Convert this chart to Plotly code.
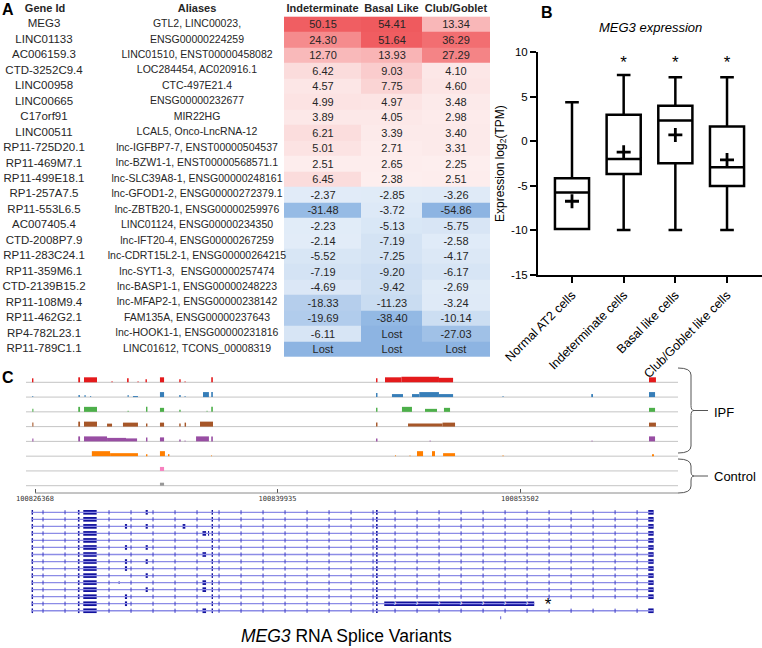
import numpy as np
import plotly.graph_objects as go

W, H = 762, 648

def px(x):
    return x / W

def py(y):
    return 1 - y / H

# ---------------- Panel A data ----------------
TABLE_HEADERS = ["Gene Id", "Aliases", "Indeterminate", "Basal Like", "Club/Goblet"]
GENE_IDS = ["MEG3", "LINC01133", "AC006159.3", "CTD-3252C9.4", "LINC00958", "LINC00665",
            "C17orf91", "LINC00511", "RP11-725D20.1", "RP11-469M7.1", "RP11-499E18.1",
            "RP1-257A7.5", "RP11-553L6.5", "AC007405.4", "CTD-2008P7.9", "RP11-283C24.1",
            "RP11-359M6.1", "CTD-2139B15.2", "RP11-108M9.4", "RP11-462G2.1", "RP4-782L23.1",
            "RP11-789C1.1"]
ALIASES = ["GTL2, LINC00023,", "ENSG00000224259", "LINC01510, ENST00000458082",
           "LOC284454, AC020916.1", "CTC-497E21.4", "ENSG00000232677", "MIR22HG",
           "LCAL5, Onco-LncRNA-12", "lnc-IGFBP7-7, ENST00000504537",
           "lnc-BZW1-1, ENST00000568571.1", "lnc-SLC39A8-1, ENSG00000248161",
           "lnc-GFOD1-2, ENSG00000272379.1", "lnc-ZBTB20-1, ENSG00000259976",
           "LINC01124, ENSG00000234350", "lnc-IFT20-4, ENSG00000267259",
           "lnc-CDRT15L2-1, ENSG00000264215", "lnc-SYT1-3,  ENSG00000257474",
           "lnc-BASP1-1, ENSG00000248223", "lnc-MFAP2-1, ENSG00000238142",
           "FAM135A, ENSG00000237643", "lnc-HOOK1-1, ENSG00000231816",
           "LINC01612, TCONS_00008319"]
INDETERMINATE = [50.15, 24.30, 12.70, 6.42, 4.57, 4.99, 3.89, 6.21, 5.01, 2.51, 6.45,
                 -2.37, -31.48, -2.23, -2.14, -5.52, -7.19, -4.69, -18.33, -19.69, -6.11, "Lost"]
BASAL_LIKE = [54.41, 51.64, 13.93, 9.03, 7.75, 4.97, 4.05, 3.39, 2.71, 2.65, 2.38,
              -2.85, -3.72, -5.13, -7.19, -7.25, -9.20, -9.42, -11.23, -38.40, "Lost", "Lost"]
CLUB_GOBLET = [13.34, 36.29, 27.29, 4.10, 4.60, 3.48, 2.98, 3.40, 3.31, 2.25, 2.51,
               -3.26, -54.86, -5.75, -2.58, -4.17, -6.17, -2.69, -3.24, -10.14, -27.03, "Lost"]

# ---------------- Panel B data ----------------
BOX_CATS = ["Normal AT2 cells", "Indeterminate cells", "Basal like cells", "Club/Goblet like cells"]
BOX_Q1 = [-9.85, -3.65, -2.45, -5.0]
BOX_MEDIAN = [-5.75, -1.97, 2.34, -2.9]
BOX_Q3 = [-4.14, 2.98, 3.99, 1.66]
BOX_LOW = [-9.85, -9.95, -9.95, -9.95]
BOX_HIGH = [4.4, 7.44, 7.21, 7.21]
BOX_MEAN = [-6.72, -1.21, 0.73, -2.08]
BOX_SIG = ["", "*", "*", "*"]

# ---------------- Panel C data ----------------
REGION_START = 100826368
AXIS_TICKS = [100826368, 100839935, 100853502]
TRACK_COLORS = ["#e41a1c", "#377eb8", "#4daf4a", "#a65628", "#984ea3", "#ff7f00", "#f781bf", "#999999"]
# coverage segments: (start offset bp, end offset bp, relative height)
COV_RED = [(-170, -90, 4), (2420, 2520, 5), (2740, 3470, 5), (4280, 4340, 1), (5150, 5240, 4),
           (5740, 5790, 1), (6180, 6260, 3), (6990, 7220, 5), (8070, 8150, 3), (8370, 8420, 1),
           (9860, 9950, 5), (19080, 19160, 4), (19580, 20500, 5), (20500, 22600, 5.5),
           (22600, 23390, 4.5), (34350, 34740, 5)]
COV_BLUE = [(-150, -100, 1), (2430, 2510, 2), (2770, 2830, 2), (3090, 3140, 1), (5180, 5240, 2),
            (5480, 5760, 1), (6990, 7220, 5), (8070, 8150, 2), (8370, 8420, 1), (9400, 9730, 5),
            (9860, 9950, 5), (19080, 19160, 4), (19970, 20590, 3), (21090, 21500, 3),
            (21500, 22600, 5), (22600, 23390, 3), (26160, 26210, 1), (31120, 31220, 3),
            (34350, 34690, 5)]
COV_GREEN = [(-150, -90, 3), (2420, 2520, 5), (2740, 3470, 5), (5180, 5240, 1), (6210, 6290, 5),
             (6990, 7220, 4), (8070, 8150, 2), (9600, 9650, 1), (9860, 9950, 5), (19080, 19160, 4),
             (20530, 21090, 5), (21820, 22490, 3), (22880, 23220, 4), (34350, 34690, 4)]
COV_BROWN = [(-150, -90, 4), (2420, 2520, 5), (2740, 3470, 5), (4030, 4310, 3), (4920, 5760, 4),
             (6210, 6290, 3), (6990, 7220, 4), (8070, 8150, 3), (8370, 8450, 4), (9230, 9960, 5),
             (19080, 19160, 4), (20870, 22800, 3), (22800, 23500, 4), (34350, 34740, 4)]
COV_PURPLE = [(-150, -90, 3), (2420, 2520, 5), (2740, 4030, 5), (4030, 5090, 3.5), (5090, 5710, 3),
              (6210, 6290, 4), (6990, 7220, 4), (8070, 8150, 2), (8370, 8420, 1), (9010, 9730, 5),
              (9860, 9950, 5), (19080, 19160, 3), (22080, 22130, 1), (31140, 31190, 1),
              (34350, 34690, 5)]
COV_ORANGE = [(3180, 4200, 5), (4200, 5760, 3), (6210, 6290, 2), (6990, 7270, 5), (7440, 7520, 2),
              (9860, 9900, 1), (20140, 20190, 1), (20960, 21000, 1), (21370, 21710, 5),
              (22210, 22380, 5), (22830, 23500, 3), (26160, 26210, 1), (34520, 34630, 2)]
COV_PINK = [(6990, 7220, 4)]
COV_GRAY = [(6990, 7220, 3)]
TRACKS = [COV_RED, COV_BLUE, COV_GREEN, COV_BROWN, COV_PURPLE, COV_ORANGE, COV_PINK, COV_GRAY]

EXON_IDS = ["e32", "e79", "e84", "e119", "e126", "e147", "e184", "e204", "e208", "e212",
            "e377", "eLast", "eLong"]
EXON_START = [-190, 2400, 2700, 4680, 5030, 6190, 8260, 9370, 9680, 9880, 19080, 34310, 19540]
EXON_END = [-110, 2490, 3450, 4730, 5150, 6310, 8410, 9570, 9740, 9960, 19170, 34610, 27930]
TRANSCRIPTS = [
    ["e32", "e79", "e84", "e147", "e212", "e377", "eLast"],
    ["e32", "e79", "e84", "e212", "e377", "eLast"],
    ["e32", "e79", "e84", "e126", "e147", "e184", "e212", "e377", "eLast"],
    ["e32", "e79", "e84", "e204", "e208", "e212", "e377", "eLast"],
    ["e32", "e79", "e84", "e212", "e377", "eLast"],
    ["e32", "e79", "e84", "e126", "e147", "e212", "e377", "eLast"],
    ["e32", "e79", "e84", "e204", "e212", "e377", "eLast"],
    ["e32", "e79", "e84", "e126", "e147", "e212", "e377", "eLast"],
    ["e32", "e79", "e84", "e126", "e212", "e377", "eLast"],
    ["e32", "e79", "e84", "e147", "e212", "e377", "eLast"],
    ["e32", "e79", "e84", "e119", "e204", "e212", "e377", "eLast"],
    ["e32", "e79", "e84", "e147", "e204", "e212", "e377", "eLast"],
    ["e32", "e79", "e84", "e126", "e212", "e377", "eLast"],
    ["e32", "e79", "e84", "e126", "e212", "e377", "eLong"],
    ["e32", "e79", "e84", "e204", "e212", "e377", "eLast"],
]
STARRED_TRANSCRIPT = 13
EXTRA_FEATURE = (26030, 26080)

# ---------------- styling / layout constants ----------------
ARIAL = "Liberation Sans, Arial"
COL_EDGES = [284, 361, 422, 490]
GENE_X, ALIAS_X = 44, 197
HEADER_X = [45, 197, 322.5, 391.5, 456]
LOST_Z = -56

COLORSCALE = [
    [0.0, "rgb(141,180,226)"], [0.2232, "rgb(150,187,229)"], [0.3304, "rgb(179,205,236)"],
    [0.4107, "rgb(204,222,242)"], [0.4821, "rgb(226,236,248)"], [0.4999, "rgb(234,241,250)"],
    [0.5001, "rgb(255,246,246)"], [0.5179, "rgb(253,239,239)"], [0.5402, "rgb(252,230,230)"],
    [0.557, "rgb(251,220,220)"], [0.5804, "rgb(250,204,205)"], [0.616, "rgb(249,184,185)"],
    [0.7143, "rgb(245,140,142)"], [0.8214, "rgb(242,110,113)"], [1.0, "rgb(239,88,92)"],
]

fig = go.Figure()

# ---- Panel A: table ----
cols = [INDETERMINATE, BASAL_LIKE, CLUB_GOBLET]
nrows = len(GENE_IDS)
z = [[(LOST_Z if c[i] == "Lost" else c[i]) for c in cols] for i in range(nrows)]
txt = [[("Lost" if c[i] == "Lost" else f"{c[i]:.2f}") for c in cols] for i in range(nrows)]
rows = list(range(nrows))

fig.add_trace(go.Heatmap(
    z=z, x=COL_EDGES, y=rows, text=txt, texttemplate="%{text}",
    textfont=dict(family=ARIAL, size=11, color="#262626"),
    colorscale=COLORSCALE, zmin=-56, zmax=56, showscale=False, hoverinfo="skip",
    xgap=0, ygap=0, xaxis="x", yaxis="y"))
fig.add_trace(go.Scatter(x=[GENE_X] * nrows, y=rows, text=GENE_IDS, mode="text",
                         textfont=dict(family=ARIAL, size=11.5, color="#262626"),
                         hoverinfo="skip", xaxis="x", yaxis="y"))
fig.add_trace(go.Scatter(x=[ALIAS_X] * nrows, y=rows, text=ALIASES, mode="text",
                         textfont=dict(family=ARIAL, size=10.5, color="#262626"),
                         hoverinfo="skip", xaxis="x", yaxis="y"))
fig.add_trace(go.Scatter(x=HEADER_X, y=[-1] * 5, text=[f"<b>{h}</b>" for h in TABLE_HEADERS],
                         mode="text", textfont=dict(family=ARIAL, size=11, color="#262626"),
                         hoverinfo="skip", xaxis="x", yaxis="y"))

# ---- Panel B: box plot ----
fig.add_trace(go.Box(
    x=BOX_CATS, q1=BOX_Q1, median=BOX_MEDIAN, q3=BOX_Q3,
    lowerfence=BOX_LOW, upperfence=BOX_HIGH, width=0.66, whiskerwidth=0.4,
    fillcolor="white", line=dict(color="black", width=2.5), boxpoints=False,
    hoverinfo="skip", xaxis="x2", yaxis="y2"))
fig.add_trace(go.Scatter(
    x=BOX_CATS, y=BOX_MEAN, mode="markers",
    marker=dict(symbol="cross-thin", size=10, color="black", line=dict(width=2.8, color="black")),
    hoverinfo="skip", xaxis="x2", yaxis="y2"))
sig_x = [c for c, s in zip(BOX_CATS, BOX_SIG) if s]
sig_t = [s for s in BOX_SIG if s]
fig.add_trace(go.Scatter(
    x=sig_x, y=[8.7] * len(sig_x), text=sig_t, mode="text",
    textfont=dict(family=ARIAL, size=17, color="black"),
    hoverinfo="skip", xaxis="x2", yaxis="y2"))

# ---- Panel C: coverage tracks ----
TRACK_PITCH = 14.77
for k, (segs, color) in enumerate(zip(TRACKS, TRACK_COLORS)):
    s = np.array(segs, dtype=float)
    st = REGION_START + s[:, 0]
    en = REGION_START + s[:, 1]
    fig.add_trace(go.Bar(
        x=(st + en) / 2, width=en - st, y=s[:, 2], base=(7 - k) * TRACK_PITCH,
        marker=dict(color=color, line=dict(width=0)), hoverinfo="skip",
        xaxis="x3", yaxis="y3"))

# ---- Panel C: splice variants ----
ex_start = dict(zip(EXON_IDS, EXON_START))
ex_end = dict(zip(EXON_IDS, EXON_END))
ix, iy = [], []
bx_base, bx_len, bx_row, bx_w = [], [], [], []
chev_x, chev_y, chev_in_x, chev_in_y = [], [], [], []
CHEV_STEP, CHEV_PHASE = 1231, 448
for r, exs in enumerate(TRANSCRIPTS):
    s0 = min(ex_start[e] for e in exs)
    e0 = max(ex_end[e] for e in exs)
    ix += [REGION_START + s0, REGION_START + e0, None]
    iy += [r, r, None]
    for e in exs:
        bx_base.append(REGION_START + ex_start[e])
        bx_len.append(ex_end[e] - ex_start[e])
        bx_row.append(r)
        bx_w.append(0.4 if e == "e119" else 0.66)
    k0 = int(np.ceil((s0 - CHEV_PHASE) / CHEV_STEP))
    k1 = int(np.floor((e0 - CHEV_PHASE) / CHEV_STEP))
    for kk in range(k0, k1 + 1):
        p = CHEV_PHASE + kk * CHEV_STEP
        if p <= s0 + 150 or p >= e0 - 150:
            continue
        if any(e == "eLong" and ex_start[e] + 200 < p < ex_end[e] - 200 for e in exs):
            chev_in_x.append(REGION_START + p)
            chev_in_y.append(r)
            continue
        if any(ex_start[e] - 150 < p < ex_end[e] + 150 for e in exs):
            continue
        chev_x.append(REGION_START + p)
        chev_y.append(r)

fig.add_trace(go.Scatter(x=ix, y=iy, mode="lines", line=dict(color="#8c8ce6", width=1.3),
                         hoverinfo="skip", xaxis="x4", yaxis="y4"))
fig.add_trace(go.Scatter(x=chev_x, y=chev_y, mode="markers",
                         marker=dict(symbol="line-ns", size=3, line=dict(width=1, color="#3c3cc4")),
                         hoverinfo="skip", xaxis="x4", yaxis="y4"))
fig.add_trace(go.Bar(orientation="h", y=bx_row, x=bx_len, base=bx_base, width=bx_w,
                     marker=dict(color="#12129c", line=dict(width=0)), hoverinfo="skip",
                     xaxis="x4", yaxis="y4"))
fig.add_trace(go.Bar(orientation="h", y=[len(TRANSCRIPTS)], x=[EXTRA_FEATURE[1] - EXTRA_FEATURE[0]],
                     base=[REGION_START + EXTRA_FEATURE[0]], width=[0.45],
                     marker=dict(color="#5a5ad0", line=dict(width=0)), hoverinfo="skip",
                     xaxis="x4", yaxis="y4"))
fig.add_trace(go.Scatter(x=chev_in_x, y=chev_in_y, mode="text", text=["›"] * len(chev_in_x),
                         textfont=dict(family=ARIAL, size=9, color="white"),
                         hoverinfo="skip", xaxis="x4", yaxis="y4"))
fig.add_trace(go.Scatter(x=[REGION_START + ex_end["eLong"] + 780], y=[STARRED_TRANSCRIPT + 0.35],
                         mode="text", text=["*"], textfont=dict(family=ARIAL, size=17, color="black"),
                         hoverinfo="skip", xaxis="x4", yaxis="y4"))

# ---------------- axes ----------------
X3_RANGE = [REGION_START - 504, REGION_START + 35974]
fig.update_layout(
    width=W, height=H, margin=dict(l=0, r=0, t=0, b=0, pad=0), autosize=False,
    paper_bgcolor="white", plot_bgcolor="white", showlegend=False, barmode="overlay",
    xaxis=dict(domain=[0, px(500)], range=[0, 500], visible=False, fixedrange=True,
               automargin=False),
    yaxis=dict(domain=[py(357), 1], range=[21.5, -1.58], visible=False, fixedrange=True,
               automargin=False),
    xaxis2=dict(domain=[px(538), 1], range=[-0.658, 3.677], type="category",
                categoryorder="array", categoryarray=BOX_CATS, anchor="y2", automargin=False,
                showline=True, linewidth=2, linecolor="black", ticks="outside", ticklen=6,
                tickwidth=2, tickcolor="black", tickangle=-45, showgrid=False, zeroline=False,
                tickfont=dict(family=ARIAL, size=12.5, color="black")),
    yaxis2=dict(domain=[py(275), py(52.3)], range=[-15, 10], anchor="x2", automargin=False,
                tickvals=[-15, -10, -5, 0, 5, 10], ticktext=["-15", "-10", "-5", "0", "5", "10"],
                showline=True, linewidth=2, linecolor="black", ticks="outside", ticklen=6,
                tickwidth=2, tickcolor="black", showgrid=False, zeroline=False,
                tickfont=dict(family=ARIAL, size=11.5, color="black"),
                title=dict(text="Expression log<sub>2</sub>(TPM)", standoff=4,
                           font=dict(family=ARIAL, size=12, color="black"))),
    xaxis3=dict(domain=[px(26), px(678)], range=X3_RANGE, anchor="y3", showline=False,
                automargin=False, showgrid=False, zeroline=False, tickvals=AXIS_TICKS,
                ticktext=[str(t) for t in AXIS_TICKS], ticks="inside", ticklen=4,
                tickcolor="#555", tickwidth=1,
                tickfont=dict(family="DejaVu Sans Mono", size=7, color="#333")),
    yaxis3=dict(domain=[py(493), py(365)], range=[-7.3, 120.7], visible=False, fixedrange=True,
                automargin=False),
    xaxis4=dict(domain=[px(26), px(678)], range=X3_RANGE, anchor="y4", matches="x3",
                visible=False, automargin=False),
    yaxis4=dict(domain=[py(622), py(505)], range=[15.6, -1.04], visible=False, fixedrange=True,
                automargin=False),
)

shapes = []
for k in range(8):
    shapes.append(dict(type="line", xref="x3 domain", yref="y3", x0=0, x1=1,
                       y0=(7 - k) * TRACK_PITCH, y1=(7 - k) * TRACK_PITCH,
                       line=dict(color="#c4c4c4", width=1), layer="below"))
shapes.append(dict(type="line", xref="x3", yref="y3 domain", x0=AXIS_TICKS[0], x1=X3_RANGE[1],
                   y0=0, y1=0, line=dict(color="#8a8a8a", width=1)))


def brace(top, bot, xl=678, xv=691, xt=694, xe=708):
    mid = (top + bot) / 2
    pts = (f"M {px(xl)},{py(top)} Q {px(xv)},{py(top)} {px(xv)},{py(top + 7)} "
           f"L {px(xv)},{py(mid - 5)} Q {px(xv)},{py(mid)} {px(xt)},{py(mid)} "
           f"Q {px(xv)},{py(mid)} {px(xv)},{py(mid + 5)} "
           f"L {px(xv)},{py(bot - 7)} Q {px(xv)},{py(bot)} {px(xl)},{py(bot)}")
    return [dict(type="path", xref="paper", yref="paper", path=pts,
                 line=dict(color="#555", width=1)),
            dict(type="line", xref="paper", yref="paper", x0=px(xt), x1=px(xe),
                 y0=py(mid), y1=py(mid), line=dict(color="#555", width=1))]


shapes += brace(368, 453)
shapes += brace(459, 493)
fig.update_layout(shapes=shapes)

ann = [
    dict(text="<b>A</b>", x=px(8), y=py(10), font=dict(family=ARIAL, size=16, color="black")),
    dict(text="<b>B</b>", x=px(547), y=py(13), font=dict(family=ARIAL, size=16, color="black")),
    dict(text="<b>C</b>", x=px(8), y=py(377), font=dict(family=ARIAL, size=16, color="black")),
    dict(text="<i>MEG3 expression</i>", x=px(650), y=py(28),
         font=dict(family=ARIAL, size=13, color="black")),
    dict(text="IPF", x=px(712), y=py(412), xanchor="left",
         font=dict(family=ARIAL, size=13, color="black")),
    dict(text="Control", x=px(712), y=py(476), xanchor="left",
         font=dict(family=ARIAL, size=13, color="black")),
    dict(text="<i>MEG3</i> RNA Splice Variants", x=px(346), y=py(636),
         font=dict(family=ARIAL, size=17.5, color="black")),
]
for a in ann:
    a.setdefault("xanchor", "center")
    a.update(xref="paper", yref="paper", yanchor="middle", showarrow=False)
fig.update_layout(annotations=ann)

fig.write_html(
    "out.html",
    config={"displayModeBar": False, "staticPlot": True},
    post_script="document.body.style.margin='0px';document.body.style.padding='0px';"
                "document.body.style.overflow='hidden';",
)
